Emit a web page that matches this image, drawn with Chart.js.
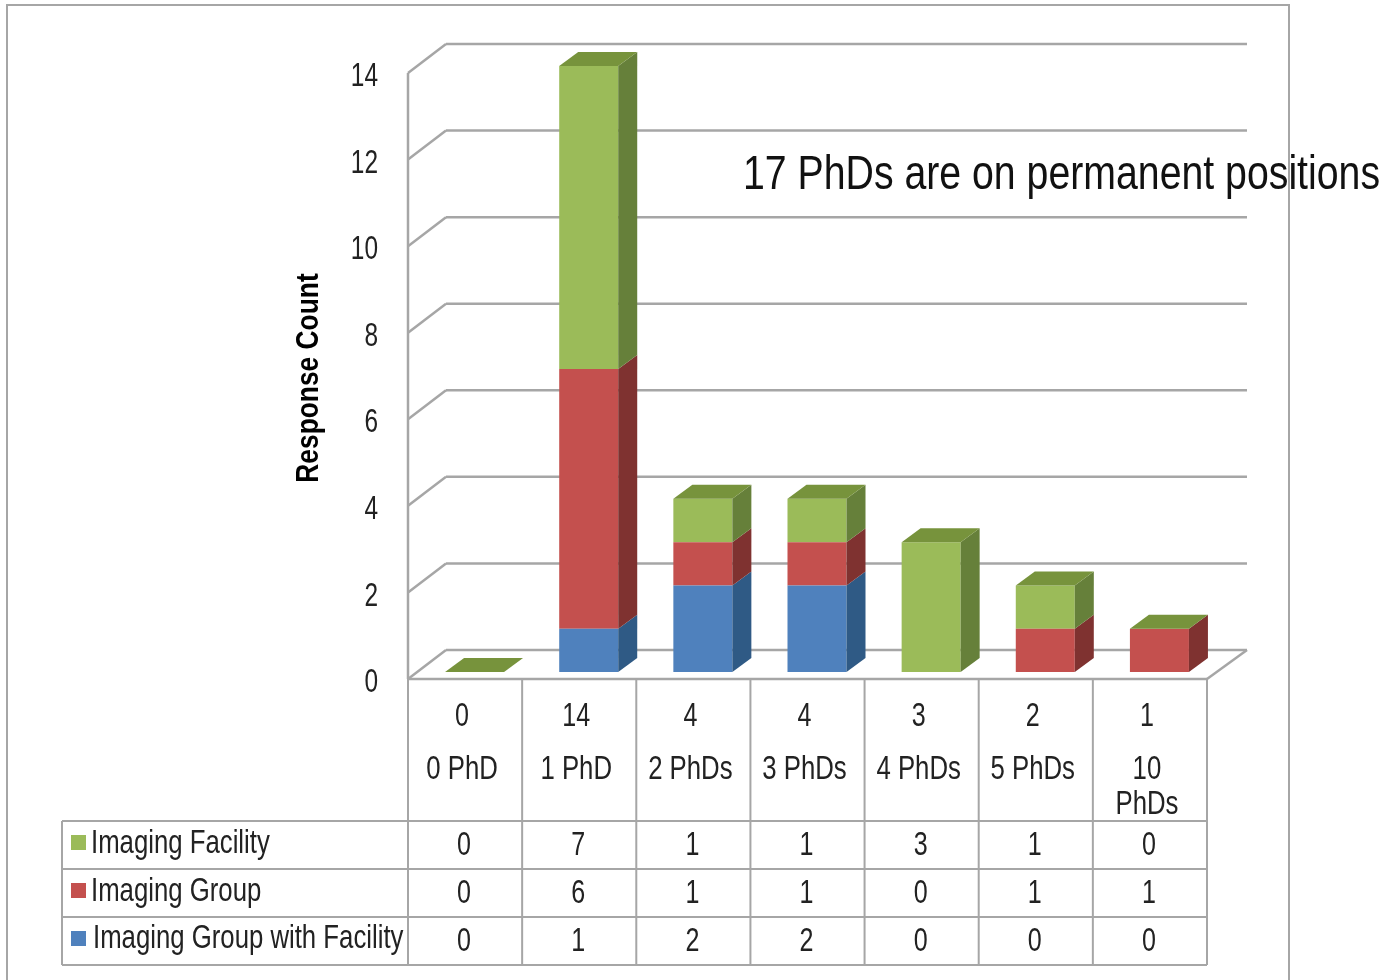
<!DOCTYPE html>
<html>
<head>
<meta charset="utf-8">
<title>Response Count</title>
<script src="https://cdn.jsdelivr.net/npm/chart.js@4"></script>
<style>
    body { margin: 0; background: #fff; }
    canvas { display: block; }
</style>
</head>
<body>
<canvas id="phdChart" width="1385" height="980"></canvas>
<script>
const categories = [['0 PhD'], ['1 PhD'], ['2 PhDs'], ['3 PhDs'], ['4 PhDs'], ['5 PhDs'], ['10', 'PhDs']];
const totals = [0, 14, 4, 4, 3, 2, 1];
const imagingFacility = [0, 7, 1, 1, 3, 1, 0];
const imagingGroup = [0, 6, 1, 1, 0, 1, 1];
const groupWithFacility = [0, 1, 2, 2, 0, 0, 0];
const yTicks = [0, 2, 4, 6, 8, 10, 12, 14];
const note = '17 PhDs are on permanent positions';

const FONT = '"Liberation Sans", sans-serif';
const LINE = '#a6a6a6';
const TEXT = '#222';

// depth of the fake 3d box, bars sit half way into it
const DEPTH_X = 38, DEPTH_Y = 29;
const BAR_DX = 9.5, BAR_DY = 7, BAR_DEPTH_X = 19, BAR_DEPTH_Y = 14;

const rows = [
    { label: 'Imaging Facility', values: imagingFacility, color: '#9BBB59', y: 844, labelX: 91, labelDy: 0 },
    { label: 'Imaging Group', values: imagingGroup, color: '#C4504E', y: 892, labelX: 91, labelDy: 0 },
    { label: 'Imaging Group with Facility', values: groupWithFacility, color: '#4F81BD', y: 940, labelX: 93, labelDy: -1 }
];

function line(ctx, x1, y1, x2, y2, width) {
    ctx.lineWidth = width || 2;
    ctx.beginPath();
    ctx.moveTo(x1, y1);
    ctx.lineTo(x2, y2);
    ctx.stroke();
}

function poly(ctx, pts, color) {
    ctx.fillStyle = color;
    ctx.beginPath();
    pts.forEach((p, i) => i ? ctx.lineTo(p[0], p[1]) : ctx.moveTo(p[0], p[1]));
    ctx.closePath();
    ctx.fill();
}

// the original picture is squeezed sideways and no narrow font is installed
function squeezedText(ctx, text, x, y, sx) {
    ctx.save();
    ctx.translate(x, y);
    ctx.scale(sx, 1);
    ctx.fillText(text, 0, 0);
    ctx.restore();
}

const box3d = {
    id: 'box3d',
    beforeDraw(chart) {
        const ctx = chart.ctx;
        ctx.save();
        ctx.strokeStyle = LINE;
        ctx.lineWidth = 2;
        ctx.strokeRect(7, 5, 1282, 1000);
        ctx.restore();
    },
    beforeDatasetsDraw(chart) {
        const { ctx, chartArea: a, scales: { y } } = chart;
        ctx.save();
        ctx.strokeStyle = LINE;
        yTicks.forEach(t => {
            const py = y.getPixelForValue(t);
            line(ctx, a.left, py, a.left + DEPTH_X, py - DEPTH_Y, 2.5);
            line(ctx, a.left + DEPTH_X, py - DEPTH_Y, a.right + 40, py - DEPTH_Y, 2.5);
        });
        line(ctx, a.left, a.top, a.left, a.bottom, 2.5);
        line(ctx, a.right, a.bottom, a.right + 40, a.bottom - DEPTH_Y, 2.5);
        ctx.restore();

        // bars go in shifted, see afterDatasetsDraw
        ctx.save();
        ctx.translate(BAR_DX, -BAR_DY);
    },
    afterDatasetsDraw(chart) {
        const ctx = chart.ctx;
        chart.data.datasets.forEach((ds, i) => {
            chart.getDatasetMeta(i).data.forEach((el, k) => {
                if (!ds.data[k]) return;
                const r = el.x + el.width / 2;
                poly(ctx, [
                    [r, el.y], [r + BAR_DEPTH_X, el.y - BAR_DEPTH_Y],
                    [r + BAR_DEPTH_X, el.base - BAR_DEPTH_Y], [r, el.base]
                ], ds.sideColor);
            });
        });
        // top face, always in the dark green
        const last = chart.getDatasetMeta(chart.data.datasets.length - 1);
        last.data.forEach(el => {
            const l = el.x - el.width / 2, r = el.x + el.width / 2;
            poly(ctx, [
                [l, el.y], [r, el.y],
                [r + BAR_DEPTH_X, el.y - BAR_DEPTH_Y], [l + BAR_DEPTH_X, el.y - BAR_DEPTH_Y]
            ], '#77933C');
        });
        ctx.restore();
    },
    afterDraw(chart) {
        const { ctx, chartArea: a, scales: { x, y } } = chart;
        ctx.save();

        // data table under the plot
        const step = (a.right - a.left) / categories.length;
        ctx.strokeStyle = LINE;
        line(ctx, a.left, a.bottom, a.right, a.bottom, 2.5);
        for (let k = 0; k <= categories.length; k++) {
            const px = a.left + step * k;
            line(ctx, px, a.bottom, px, 965);
        }
        [821, 869, 917, 965].forEach(py => line(ctx, 62, py, a.right, py));
        line(ctx, 62, 821, 62, 965);

        ctx.fillStyle = TEXT;
        ctx.textBaseline = 'middle';
        ctx.font = '33px ' + FONT;

        // value axis labels
        ctx.textAlign = 'right';
        y.ticks.forEach(t => {
            squeezedText(ctx, t.value, 378, y.getPixelForValue(t.value) + 4, 0.74);
        });

        ctx.textAlign = 'center';
        categories.forEach((c, k) => {
            const px = x.getPixelForValue(k) - 3;
            squeezedText(ctx, totals[k], px, 717, 0.76);
            squeezedText(ctx, c[0], px, 770, 0.78);
            if (c.length > 1) squeezedText(ctx, c[1], px, 805, 0.78);
        });

        rows.forEach(row => {
            ctx.textAlign = 'center';
            ctx.fillStyle = TEXT;
            row.values.forEach((v, k) => {
                squeezedText(ctx, v, x.getPixelForValue(k) - 1, row.y + 2, 0.76);
            });
            ctx.fillStyle = row.color;
            ctx.fillRect(71, row.y - 9, 15, 15);
            ctx.fillStyle = TEXT;
            ctx.textAlign = 'left';
            squeezedText(ctx, row.label, row.labelX, row.y + row.labelDy, 0.78);
        });

        // axis title
        ctx.save();
        ctx.translate(309, 378);
        ctx.rotate(-Math.PI / 2);
        ctx.textAlign = 'center';
        ctx.fillStyle = '#000';
        ctx.font = 'bold 31px ' + FONT;
        squeezedText(ctx, 'Response Count', 0, 0, 0.85);
        ctx.restore();

        // note sits on top of the frame in the original
        ctx.textAlign = 'left';
        ctx.fillStyle = '#111';
        ctx.font = '48px ' + FONT;
        squeezedText(ctx, note, 743, 176, 637 / ctx.measureText(note).width);
        ctx.restore();
    }
};

const ctx = document.getElementById('phdChart').getContext('2d');
new Chart(ctx, {
    type: 'bar',
    data: {
        labels: categories.map(c => c.join(' ')),
        datasets: [
            { label: rows[2].label, data: groupWithFacility, backgroundColor: rows[2].color, sideColor: '#2F5A85' },
            { label: rows[1].label, data: imagingGroup, backgroundColor: rows[1].color, sideColor: '#7F3230' },
            { label: rows[0].label, data: imagingFacility, backgroundColor: rows[0].color, sideColor: '#66803A' }
        ]
    },
    options: {
        responsive: false,
        animation: false,
        barPercentage: 0.517,
        categoryPercentage: 1,
        layout: { padding: { top: 73, right: 178, bottom: 301 } },
        plugins: {
            legend: { display: false },
            tooltip: { enabled: false }
        },
        scales: {
            x: {
                stacked: true,
                afterFit: s => { s.height = 0; },
                grid: { display: false },
                border: { display: false },
                ticks: { display: false }
            },
            y: {
                stacked: true,
                min: 0,
                max: 14,
                afterFit: s => { s.width = 408; },
                grid: { display: false, drawTicks: false },
                border: { display: false },
                afterBuildTicks: s => { s.ticks = yTicks.map(v => ({ value: v })); },
                ticks: { display: false }
            }
        }
    },
    plugins: [box3d]
});
</script>
</body>
</html>
